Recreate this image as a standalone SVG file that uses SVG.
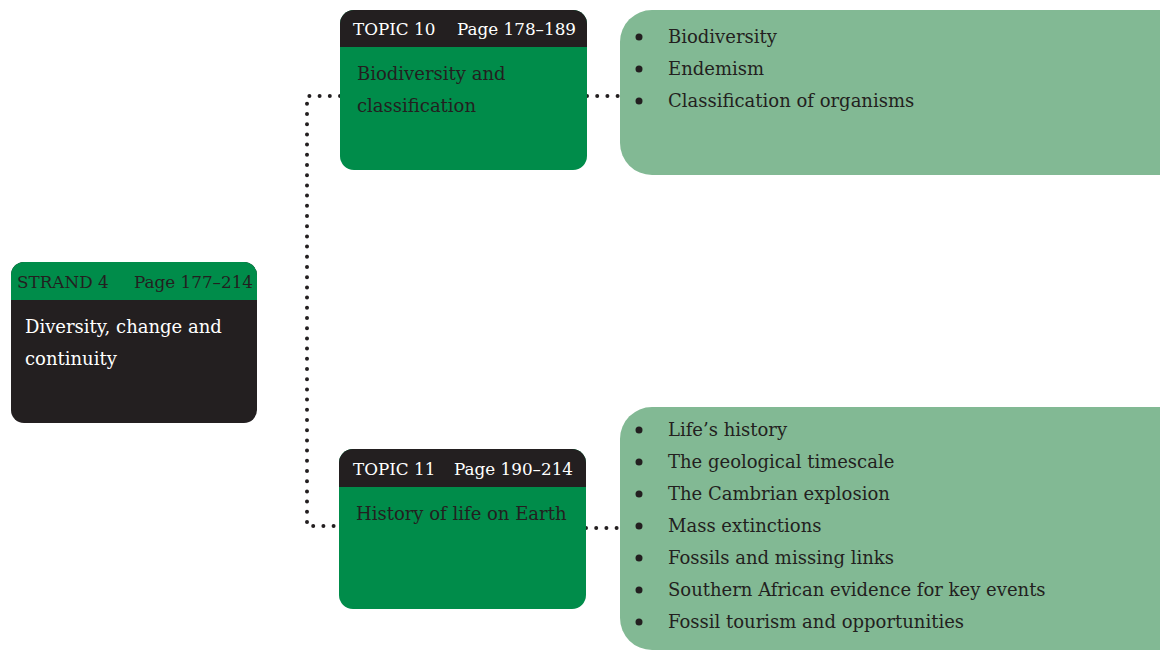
<svg xmlns="http://www.w3.org/2000/svg" width="1160" height="651" viewBox="0 0 1160 651">
<style>
text{font-family:"DejaVu Serif","Liberation Serif",serif;font-size:18px;fill:#231f20}
.h{font-size:16.8px}
.w{fill:#ffffff}
.dark{fill:#231f20}
.green{fill:#008c4a}
.light{fill:#82b994}
.dot{fill:none;stroke:#231f20;stroke-width:4;stroke-linecap:round;stroke-dasharray:0 10.2}
</style>
<defs>
<clipPath id="c1"><rect x="11" y="262" width="246" height="161" rx="13"/></clipPath>
<clipPath id="c2"><rect x="340" y="10" width="247" height="160" rx="14"/></clipPath>
<clipPath id="c3"><rect x="339" y="449" width="247" height="160" rx="14"/></clipPath>
</defs>
<g id="connectors">
<path class="dot" d="M340 96 H307 V526 H340"/>
<path class="dot" d="M587 96 H620"/>
<path class="dot" d="M586 528 H620"/>
</g>
<g id="strand4">
<g clip-path="url(#c1)">
<rect class="dark" x="11" y="262" width="246" height="161"/>
<rect class="green" x="11" y="262" width="246" height="38"/>
</g>
<text class="h" x="17" y="288">STRAND 4</text>
<text class="h" x="134" y="288">Page 177–214</text>
<text class="w" x="25" y="333">Diversity, change and</text>
<text class="w" x="25" y="365">continuity</text>
</g>
<g id="topic10">
<g clip-path="url(#c2)">
<rect class="green" x="340" y="10" width="247" height="160"/>
<rect class="dark" x="340" y="10" width="247" height="37"/>
</g>
<text class="h w" x="353" y="35">TOPIC 10</text>
<text class="h w" x="457" y="35">Page 178–189</text>
<text x="357" y="80">Biodiversity and</text>
<text x="357" y="112">classification</text>
</g>
<g id="topic11">
<g clip-path="url(#c3)">
<rect class="green" x="339" y="449" width="247" height="160"/>
<rect class="dark" x="339" y="449" width="247" height="38"/>
</g>
<text class="h w" x="353" y="475">TOPIC 11</text>
<text class="h w" x="454" y="475">Page 190–214</text>
<text x="356" y="520">History of life on Earth</text>
</g>
<g id="list10">
<rect class="light" x="620" y="10" width="580" height="165" rx="32"/>
<g class="dark">
<circle cx="639" cy="37" r="3.5"/>
<circle cx="639" cy="69" r="3.5"/>
<circle cx="639" cy="101" r="3.5"/>
</g>
<text x="668" y="43">Biodiversity</text>
<text x="668" y="75">Endemism</text>
<text x="668" y="107">Classification of organisms</text>
</g>
<g id="list11">
<rect class="light" x="620" y="407" width="580" height="243" rx="32"/>
<g class="dark">
<circle cx="639" cy="430" r="3.5"/>
<circle cx="639" cy="462" r="3.5"/>
<circle cx="639" cy="494" r="3.5"/>
<circle cx="639" cy="526" r="3.5"/>
<circle cx="639" cy="558" r="3.5"/>
<circle cx="639" cy="590" r="3.5"/>
<circle cx="639" cy="622" r="3.5"/>
</g>
<text x="668" y="436">Life’s history</text>
<text x="668" y="468">The geological timescale</text>
<text x="668" y="500">The Cambrian explosion</text>
<text x="668" y="532">Mass extinctions</text>
<text x="668" y="564">Fossils and missing links</text>
<text x="668" y="596">Southern African evidence for key events</text>
<text x="668" y="628">Fossil tourism and opportunities</text>
</g>
</svg>
